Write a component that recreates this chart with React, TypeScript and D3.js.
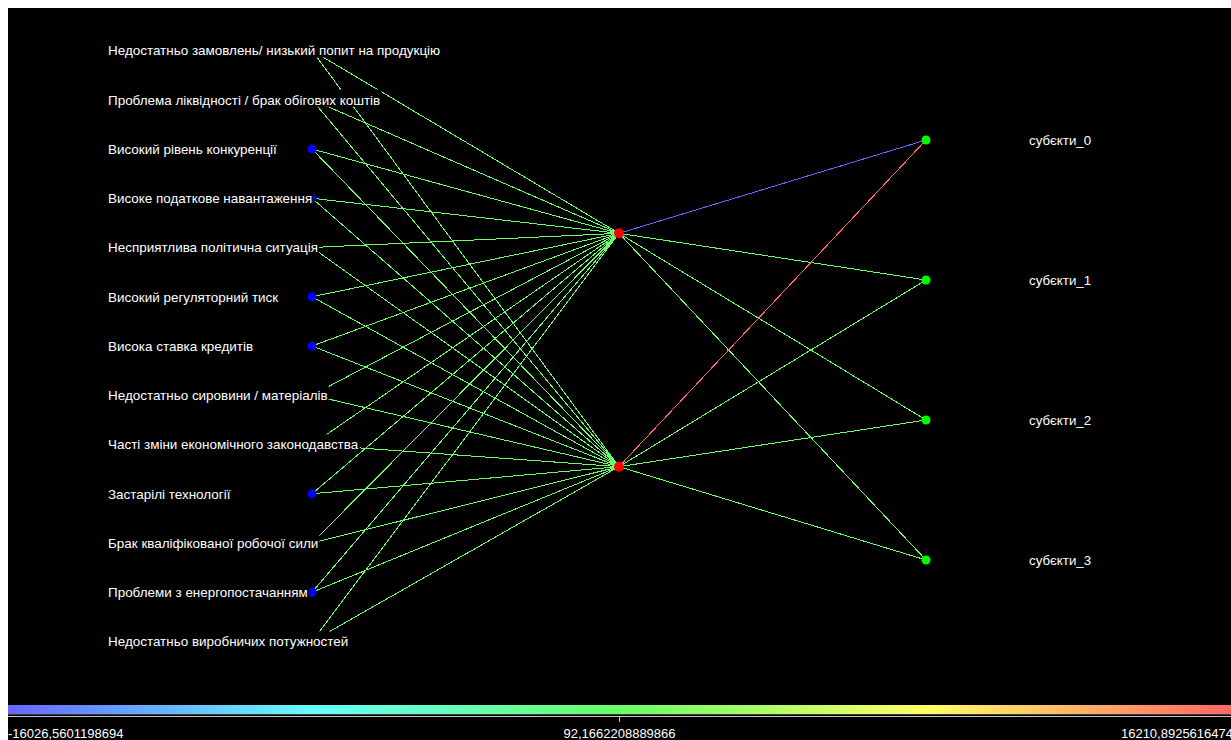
import React, { useEffect, useRef } from 'react';
import * as d3 from 'd3';

// network layers
const inputLabels = [
  'Недостатньо замовлень/ низький попит на продукцію',
  'Проблема ліквідності / брак обігових коштів',
  'Високий рівень конкуренції',
  'Високе податкове навантаження',
  'Несприятлива політична ситуація',
  'Високий регуляторний тиск',
  'Висока ставка кредитів',
  'Недостатньо сировини / матеріалів',
  'Часті зміни економічного законодавства',
  'Застарілі технології',
  'Брак кваліфікованої робочої сили',
  'Проблеми з енергопостачанням',
  'Недостатньо виробничих потужностей',
];
const hiddenNodes = ['h0', 'h1'];
const outputLabels = ['субєкти_0', 'субєкти_1', 'субєкти_2', 'субєкти_3'];

// weights input -> hidden (one pair per input)
const inputWeights: [number, number][] = [
  [184.2, -96.5],
  [221.7, 45.3],
  [-130.4, 310.9],
  [75.8, -212.6],
  [402.1, 12.7],
  [-58.3, 260.4],
  [139.6, -171.2],
  [-244.9, 88.1],
  [301.5, -33.6],
  [-17.2, 198.8],
  [116.3, 354.2],
  [-289.7, 67.4],
  [240.6, -122.9],
];
// weights hidden -> output
const hiddenWeights: number[][] = [
  [-16026.5601198694, 205.4, 118.7, 362.3],
  [16210.8925616474, 274.1, -84.6, 151.9],
];

const barMin = -16026.5601198694;
const barMid = 92.1662208889866;
const barMax = 16210.8925616474;
const barColors = ['#6666ff', '#66ffff', '#66ff66', '#ffff66', '#ff6666'];

const fmt = (v: number) => String(v).replace('.', ',');

const App: React.FC = () => {
  const svgRef = useRef<SVGSVGElement>(null);

  useEffect(() => {
    if (!svgRef.current) return;
    const W = 1231;
    const H = 740;
    const svg = d3.select(svgRef.current);
    svg.selectAll('*').remove();

    svg.append('rect').attr('width', W).attr('height', H).attr('fill', '#fff');
    svg.append('rect').attr('x', 8).attr('y', 8).attr('width', W - 8).attr('height', H - 8).attr('fill', '#000');

    // scales
    const xLayer = d3.scalePoint<string>().domain(['in', 'hid', 'out']).range([312, 926]);
    const yIn = d3.scalePoint<string>().domain(inputLabels).range([50.5, 641.5]);
    const yHid = d3.scalePoint<string>().domain(hiddenNodes).range([0, 700]).padding(1);
    const yOut = d3.scalePoint<string>().domain(outputLabels).range([0, 700]).padding(1);

    const stops = d3.range(barColors.length).map(i => barMin + (i * (barMax - barMin)) / (barColors.length - 1));
    const color = d3.scaleLinear<string>().domain(stops).range(barColors).interpolate(d3.interpolateRgb);

    const font = '"Liberation Sans", Arial, sans-serif';

    // links
    const links = svg.append('g').attr('shape-rendering', 'crispEdges');
    inputLabels.forEach((lab, i) => {
      hiddenNodes.forEach((h, j) => {
        links.append('line')
          .attr('x1', xLayer('in')!).attr('y1', yIn(lab)!)
          .attr('x2', xLayer('hid')!).attr('y2', yHid(h)!)
          .attr('stroke', color(inputWeights[i][j]))
          .attr('stroke-width', 1);
      });
    });
    hiddenNodes.forEach((h, j) => {
      outputLabels.forEach((o, k) => {
        links.append('line')
          .attr('x1', xLayer('hid')!).attr('y1', yHid(h)!)
          .attr('x2', xLayer('out')!).attr('y2', yOut(o)!)
          .attr('stroke', color(hiddenWeights[j][k]))
          .attr('stroke-width', 1);
      });
    });

    // nodes
    svg.append('g').selectAll('circle').data(inputLabels).join('circle')
      .attr('cx', xLayer('in')!).attr('cy', d => yIn(d)!).attr('r', 4.5).attr('fill', '#0000ff');
    svg.append('g').selectAll('circle').data(hiddenNodes).join('circle')
      .attr('cx', xLayer('hid')!).attr('cy', d => yHid(d)!).attr('r', 5).attr('fill', '#ff0000');
    svg.append('g').selectAll('circle').data(outputLabels).join('circle')
      .attr('cx', xLayer('out')!).attr('cy', d => yOut(d)!).attr('r', 4.5).attr('fill', '#00ff00');

    // labels with opaque background
    const addLabel = (txt: string, x: number, y: number, size: number) => {
      const g = svg.append('g');
      const t = g.append('text')
        .attr('x', x).attr('y', y).attr('dy', '0.36em')
        .attr('fill', '#fff')
        .style('font-family', font).style('font-size', `${size}px`)
        .text(txt);
      const bb = (t.node() as SVGTextElement).getBBox();
      g.insert('rect', 'text')
        .attr('x', bb.x - 1).attr('y', y - 10)
        .attr('width', bb.width + 2).attr('height', 17)
        .attr('fill', '#000');
    };
    inputLabels.forEach(l => addLabel(l, 108, yIn(l)!, 13.45));
    outputLabels.forEach(l => addLabel(l, 1029, yOut(l)!, 13.3));

    // colour bar
    const xBar = d3.scaleLinear().domain([barMin, barMax]).range([8, W]);
    const grad = svg.append('defs').append('linearGradient').attr('id', 'bar-grad');
    stops.forEach((s, i) => {
      grad.append('stop')
        .attr('offset', `${(i / (stops.length - 1)) * 100}%`)
        .attr('stop-color', barColors[i]);
    });
    svg.append('rect')
      .attr('x', xBar(barMin)).attr('y', 705)
      .attr('width', xBar(barMax) - xBar(barMin)).attr('height', 9)
      .attr('fill', 'url(#bar-grad)');
    svg.append('line')
      .attr('x1', 8).attr('x2', W).attr('y1', 714.5).attr('y2', 714.5)
      .attr('stroke', '#3a3a3a');
    svg.append('line')
      .attr('x1', 8).attr('x2', W).attr('y1', 716.5).attr('y2', 716.5)
      .attr('stroke', '#c8c8c8');
    svg.append('line')
      .attr('x1', Math.round(xBar(barMid)) + 0.5).attr('x2', Math.round(xBar(barMid)) + 0.5)
      .attr('y1', 716).attr('y2', 722)
      .attr('stroke', '#c8c8c8');

    const barText = svg.append('g')
      .attr('fill', '#fff')
      .style('font-family', font).style('font-size', '13px');
    barText.append('text').attr('x', 8).attr('y', 738).attr('text-anchor', 'start').text(fmt(barMin));
    barText.append('text').attr('x', xBar(barMid)).attr('y', 738).attr('text-anchor', 'middle').text(fmt(barMid));
    barText.append('text').attr('x', W + 2).attr('y', 738).attr('text-anchor', 'end').text(fmt(barMax));
  }, []);

  return (
    <svg
      ref={svgRef}
      width={1231}
      height={740}
      style={{ position: 'fixed', left: 0, top: 0, display: 'block' }}
    />
  );
};

export default App;
